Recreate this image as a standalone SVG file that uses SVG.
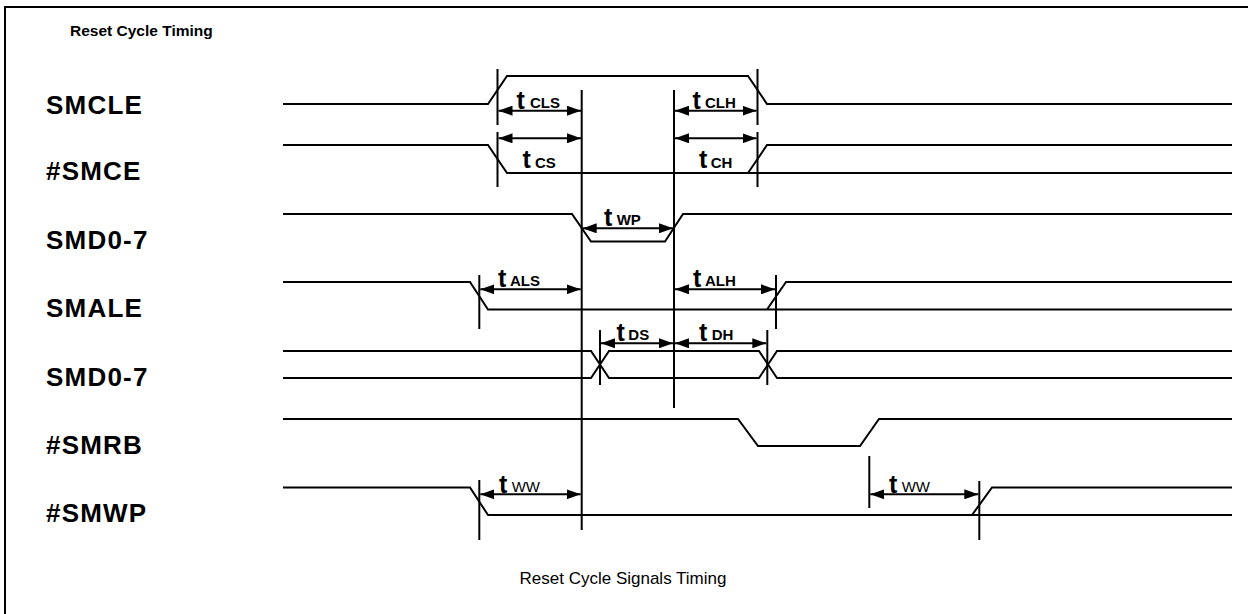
<svg xmlns="http://www.w3.org/2000/svg" width="1248" height="614" viewBox="0 0 1248 614">
<style>
.sig{fill:none;stroke:#000;stroke-width:2}
.mk{stroke:#000;stroke-width:2}
.arr{stroke:#000;stroke-width:2;marker-start:url(#ah);marker-end:url(#ah)}
.lbl{font-family:"Liberation Sans",Arial,sans-serif;font-weight:bold;font-size:26px;letter-spacing:1.2px;fill:#000}
.t{font-family:"Liberation Sans",Arial,sans-serif;font-weight:bold;font-size:25px;fill:#000}
.sub{font-family:"Liberation Sans",Arial,sans-serif;font-weight:bold;font-size:15px;fill:#000}
.subn{font-family:"Liberation Sans",Arial,sans-serif;font-weight:normal;font-size:15px;fill:#000}
.title{font-family:"Liberation Sans",Arial,sans-serif;font-weight:bold;font-size:15.5px;fill:#000}
.cap{font-family:"Liberation Sans",Arial,sans-serif;font-size:17px;fill:#000}
</style>
<defs>
<marker id="ah" markerUnits="userSpaceOnUse" markerWidth="14" markerHeight="10" refX="14" refY="5" orient="auto-start-reverse">
<path d="M0,0 L14,5 L0,10 z" fill="#000"/>
</marker>
</defs>
<rect x="0" y="0" width="1248" height="614" fill="#fff"/>
<path d="M5,620 V7 H1250" fill="none" stroke="#000" stroke-width="2"/>
<text class="title" x="70" y="36">Reset Cycle Timing</text>

<g id="SMCLE">
<text class="lbl" x="46" y="113.5">SMCLE</text>
<path class="sig" d="M283,104 H488 L507,76 H748 L767,104 H1232"/>
</g>
<g id="SMCE">
<text class="lbl" x="46" y="180">#SMCE</text>
<path class="sig" d="M283,145 H488 L507,173 H1232 M748,173 L767,145 H1232"/>
</g>
<g id="SMD07a">
<text class="lbl" x="46" y="249">SMD0-7</text>
<path class="sig" d="M283,214 H572 L591,241.5 H665 L683,214 H1232"/>
</g>
<g id="SMALE">
<text class="lbl" x="46" y="317">SMALE</text>
<path class="sig" d="M283,282 H470 L488,309.5 H1232 M767,309.5 L786,282 H1232"/>
</g>
<g id="SMD07b">
<text class="lbl" x="46" y="386">SMD0-7</text>
<path class="sig" d="M283,351 H591 L609,378 H759 L777,351 H1232 M283,378 H591 L609,351 H759 L777,378 H1232"/>
</g>
<g id="SMRB">
<text class="lbl" x="46" y="454">#SMRB</text>
<path class="sig" d="M283,419 H738 L758,446 H860 L879,419 H1232"/>
</g>
<g id="SMWP">
<text class="lbl" x="46" y="522">#SMWP</text>
<path class="sig" d="M283,487.5 H470 L488,515 H1232 M972,515 L992,487.5 H1232"/>
</g>

<g id="connectors">
<line class="mk" x1="497.5" y1="69" x2="497.5" y2="125"/>
<line class="mk" x1="497.5" y1="132" x2="497.5" y2="187"/>
<line class="mk" x1="757.5" y1="69" x2="757.5" y2="125"/>
<line class="mk" x1="757.5" y1="132" x2="757.5" y2="187"/>
<line class="mk" x1="581.7" y1="90" x2="581.7" y2="530"/>
<line class="mk" x1="674" y1="90" x2="674" y2="408"/>
<line class="mk" x1="479.3" y1="275" x2="479.3" y2="329"/>
<line class="mk" x1="776" y1="275" x2="776" y2="329"/>
<line class="mk" x1="600" y1="330" x2="600" y2="385"/>
<line class="mk" x1="767.3" y1="330" x2="767.3" y2="385"/>
<line class="mk" x1="479.3" y1="480" x2="479.3" y2="540"/>
<line class="mk" x1="869.3" y1="456" x2="869.3" y2="508"/>
<line class="mk" x1="979.3" y1="481" x2="979.3" y2="540"/>

<line class="arr" x1="498.5" y1="110.7" x2="581" y2="110.7"/>
<line class="arr" x1="675" y1="110.7" x2="756.5" y2="110.7"/>
<line class="arr" x1="498.5" y1="138.3" x2="581" y2="138.3"/>
<line class="arr" x1="675" y1="138.3" x2="756.5" y2="138.3"/>
<line class="arr" x1="582.7" y1="228.3" x2="673" y2="228.3"/>
<line class="arr" x1="480.3" y1="289.3" x2="580.7" y2="289.3"/>
<line class="arr" x1="675" y1="289.3" x2="775" y2="289.3"/>
<line class="arr" x1="601" y1="343.3" x2="673" y2="343.3"/>
<line class="arr" x1="675" y1="343.3" x2="766.3" y2="343.3"/>
<line class="arr" x1="480.3" y1="494.3" x2="580.7" y2="494.3"/>
<line class="arr" x1="870.3" y1="494.3" x2="978.3" y2="494.3"/>
</g>

<g id="labels">
<text class="t" x="516.5" y="109.3">t</text><text class="sub" x="530" y="108">CLS</text>
<text class="t" x="692.5" y="109.3">t</text><text class="sub" x="705" y="108">CLH</text>
<text class="t" x="522.5" y="168.3">t</text><text class="sub" x="535" y="168">CS</text>
<text class="t" x="699" y="168.3">t</text><text class="sub" x="710.7" y="168">CH</text>
<text class="t" x="604" y="226">t</text><text class="sub" x="616.7" y="225">WP</text>
<text class="t" x="498" y="287.3">t</text><text class="sub" x="510" y="286">ALS</text>
<text class="t" x="693" y="287.3">t</text><text class="sub" x="705" y="286">ALH</text>
<text class="t" x="616.5" y="341">t</text><text class="sub" x="628.3" y="340">DS</text>
<text class="t" x="699" y="341">t</text><text class="sub" x="711.7" y="340">DH</text>
<text class="t" x="499" y="492.7">t</text><text class="subn" x="511.7" y="491.5">WW</text>
<text class="t" x="889" y="492.7">t</text><text class="subn" x="901.7" y="491.5">WW</text>
</g>

<text class="cap" x="623" y="584" text-anchor="middle">Reset Cycle Signals Timing</text>
</svg>
